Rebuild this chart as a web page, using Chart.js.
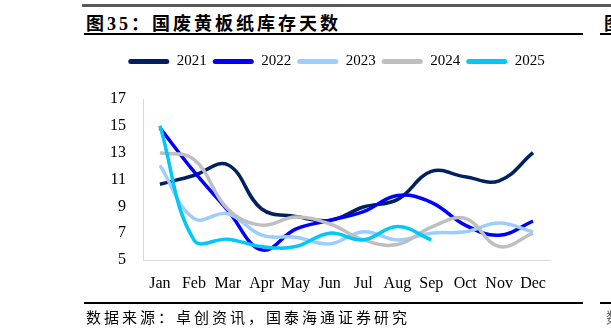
<!DOCTYPE html>
<html>
<head>
<meta charset="utf-8">
<script src="https://cdn.jsdelivr.net/npm/chart.js@4.4.1/dist/chart.umd.min.js"></script>
<style>
body{margin:0;width:611px;height:336px;overflow:hidden;background:#fff;position:relative;font-family:"Liberation Serif","Noto Sans CJK SC",serif;color:#000}
#topline{position:absolute;left:82px;top:4px;width:529px;height:3px;background:#595959}
#title{position:absolute;left:86px;top:9px;font-size:18px;font-weight:bold;letter-spacing:3px;white-space:nowrap}
#title2{position:absolute;left:604px;top:9px;font-size:18px;font-weight:bold;white-space:nowrap}
.rule{position:absolute;height:1.5px;background:#000}
#src{position:absolute;left:86px;top:306px;font-family:"Noto Sans CJK SC";font-size:15px;letter-spacing:3px;white-space:nowrap}
#src2{position:absolute;left:606px;top:306px;font-family:"Noto Sans CJK SC";font-size:15px;white-space:nowrap;color:#666}
#chart{position:absolute;left:82px;top:40px;display:block}
</style>
</head>
<body>
<div id="topline"></div>
<div id="title">图35：国废黄板纸库存天数</div>
<div id="title2">图</div>
<div class="rule" style="left:84px;top:33px;width:499px"></div>
<div class="rule" style="left:600px;top:33px;width:11px"></div>
<canvas id="chart" width="509" height="265"></canvas>
<div class="rule" style="left:84px;top:302px;width:499px"></div>
<div class="rule" style="left:600px;top:302px;width:11px"></div>
<div id="src">数据来源：卓创资讯，国泰海通证券研究</div>
<div id="src2">数</div>
<script>
// 库存天数，按月
var months = ['Jan', 'Feb', 'Mar', 'Apr', 'May', 'Jun', 'Jul', 'Aug', 'Sep', 'Oct', 'Nov', 'Dec'];
var years = ['2021', '2022', '2023', '2024', '2025'];
var y2021 = [10.65, 11.3, 12.1, 8.8, 8.25, 7.95, 8.95, 9.5, 11.6, 11.2, 10.9, 13.0];
var y2022 = [14.85, 11.6, 8.7, 5.75, 7.3, 7.95, 8.6, 9.8, 9.3, 7.6, 6.85, 7.9];
var y2023 = [12.05, 8.1, 8.45, 6.85, 6.7, 6.2, 7.1, 6.5, 7.0, 7.1, 7.75, 7.1];
var y2024 = [13.0, 12.5, 8.8, 7.6, 8.2, 7.7, 6.5, 6.15, 7.45, 8.1, 6.0, 7.0];
var y2025 = [15.0, 6.5, 6.55, 6.0, 6.0, 7.0, 6.5, 7.5, 6.5];
var colors = ['#002060', '#0000ff', '#9dcdfc', '#bfbfbf', '#00c8f8'];
var yTicks = [5, 7, 9, 11, 13, 15, 17];

var series = [y2021, y2022, y2023, y2024, y2025];
var datasets = [];
for (var i = 0; i < series.length; i++) {
  datasets.push({
    label: years[i],
    data: series[i],
    borderColor: colors[i],
    backgroundColor: colors[i],
    borderWidth: 3.5,
    pointRadius: 0,
    tension: 0.4,
    fill: false,
    order: series.length - i
  });
}

var font = {family: '"Liberation Serif", serif', size: 16};

// extra gap under the legend
var legendGap = {
  id: 'legendGap',
  beforeInit: function(chart){
    var fit = chart.legend.fit;
    chart.legend.fit = function(){
      fit.bind(chart.legend)();
      this.height += 20;
    };
  }
};

new Chart(document.getElementById('chart'), {
  type: 'line',
  data: {labels: months, datasets: datasets},
  plugins: [legendGap],
  options: {
    responsive: false,
    animation: false,
    layout: {padding: {top: 8}},
    plugins: {
      tooltip: {enabled: false},
      legend: {
        position: 'top',
        align: 'center',
        labels: {
          font: {family: '"Liberation Serif", serif', size: 15},
          color: '#000',
          boxWidth: 41,
          boxHeight: 5,
          padding: 6,
          useBorderRadius: true,
          borderRadius: 2.5,
          sort: function(a, b){ return a.datasetIndex - b.datasetIndex; },
          generateLabels: function(chart){
            var items = Chart.defaults.plugins.legend.labels.generateLabels(chart);
            items.forEach(function(it){ it.lineWidth = 0; it.fillStyle = it.strokeStyle; });
            return items;
          }
        }
      }
    },
    scales: {
      x: {
        offset: true,
        grid: {display: false},
        border: {display: true, color: '#d9d9d9', width: 1},
        ticks: {font: font, color: '#000', padding: 6, maxRotation: 0, autoSkip: false},
        afterFit: function(s){ s.height = 45; }
      },
      y: {
        min: 5,
        max: 17,
        afterBuildTicks: function(s){ s.ticks = yTicks.map(function(v){ return {value: v}; }); },
        grid: {display: false},
        border: {display: true, color: '#d9d9d9', width: 1},
        ticks: {font: font, color: '#000', padding: 9},
        afterFit: function(s){ s.width = 61; }
      },
      yr: {
        type: 'linear',
        position: 'right',
        grid: {display: false},
        border: {display: false},
        ticks: {display: false},
        afterFit: function(s){ s.width = 41; }
      }
    }
  }
});
</script>
</body>
</html>
